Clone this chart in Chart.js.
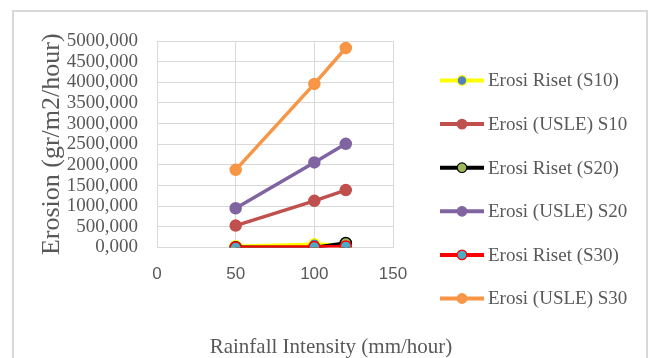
<!DOCTYPE html>
<html>
<head>
<meta charset="utf-8">
<script src="https://cdn.jsdelivr.net/npm/chart.js@4/dist/chart.umd.min.js"></script>
<style>
  html, body { margin: 0; padding: 0; background: #ffffff; overflow: hidden; }
  #frame { position: absolute; left: 12px; top: 10px; width: 636px; height: 400px; box-sizing: border-box; border: 2px solid #d9d9d9; border-bottom: none; }
  #c { position: absolute; left: 0; top: 0; }
</style>
</head>
<body>
<div id="frame"></div>
<canvas id="c" width="648" height="358"></canvas>
<script>
// ---- data ----
const intensities = [50, 100, 120];
const seriesNames = [
  'Erosi Riset (S10)',
  'Erosi (USLE) S10',
  'Erosi Riset (S20)',
  'Erosi (USLE) S20',
  'Erosi Riset (S30)',
  'Erosi (USLE) S30'
];
const risetS10 = [30, 80, 60];
const usleS10 = [530, 1130, 1390];
const risetS20 = [5, 0, 110];
const usleS20 = [950, 2060, 2510];
const risetS30 = [0, 10, 25];
const usleS30 = [1880, 3960, 4830];
const xTicks = [0, 50, 100, 150];
const yTicks = [0, 500, 1000, 1500, 2000, 2500, 3000, 3500, 4000, 4500, 5000];
const xAxisTitle = 'Rainfall Intensity (mm/hour)';
const yAxisTitle = 'Erosion (gr/m2/hour)';

// ---- styles ----
const lineColors = ['#ffff00', '#c0504d', '#000000', '#8064a2', '#ff0000', '#f79646'];
const fillColors = ['#4f81bd', '#c0504d', '#9bbb59', '#8064a2', '#4bacc6', '#f79646'];
const allValues = [risetS10, usleS10, risetS20, usleS20, risetS30, usleS30];

const datasets = allValues.map((vals, i) => ({
  label: seriesNames[i],
  data: intensities.map((x, k) => ({ x: x, y: vals[k] })),
  borderColor: lineColors[i],
  backgroundColor: fillColors[i],
  pointBackgroundColor: fillColors[i],
  pointBorderColor: lineColors[i],
  pointBorderWidth: 1.5,
  pointRadius: 5.5,
  borderWidth: 3.5,
  showLine: true,
  fill: false,
  tension: 0,
  order: allValues.length - i
}));

const textColor = '#595959';
const gridColor = '#d9d9d9';

const customLegend = {
  id: 'customLegend',
  afterDraw(chart) {
    const ctx = chart.ctx;
    ctx.save();
    chart.data.datasets.forEach((ds, i) => {
      const y = 80.5 + i * 43.6;
      ctx.strokeStyle = ds.borderColor;
      ctx.lineWidth = 4;
      ctx.beginPath();
      ctx.moveTo(440, y);
      ctx.lineTo(484, y);
      ctx.stroke();
      ctx.beginPath();
      ctx.arc(462, y, 4.8, 0, Math.PI * 2);
      ctx.fillStyle = ds.pointBackgroundColor;
      ctx.fill();
      ctx.lineWidth = 1.2;
      ctx.strokeStyle = ds.pointBorderColor;
      ctx.stroke();
      ctx.fillStyle = textColor;
      ctx.font = '19px "Liberation Serif"';
      ctx.textAlign = 'left';
      ctx.textBaseline = 'middle';
      ctx.fillText(ds.label, 488, y + 1);
    });
    ctx.font = '21px "Liberation Serif"';
    ctx.textAlign = 'center';
    ctx.textBaseline = 'middle';
    ctx.fillStyle = textColor;
    ctx.fillText(xAxisTitle, 331, 347);
    ctx.restore();
  }
};

new Chart(document.getElementById('c'), {
  type: 'scatter',
  data: { datasets: datasets },
  options: {
    responsive: false,
    animation: false,
    layout: { padding: { top: 41, right: 255, bottom: 0, left: 0 } },
    plugins: {
      legend: { display: false },
      tooltip: { enabled: false }
    },
    scales: {
      x: {
        type: 'linear',
        min: xTicks[0],
        max: xTicks[xTicks.length - 1],
        afterBuildTicks: (s) => { s.ticks = xTicks.map(v => ({ value: v })); },
        afterFit: (s) => { s.height = 110.5; },
        grid: { color: gridColor, drawTicks: false },
        border: { color: gridColor },
        ticks: {
          padding: 17,
          color: textColor,
          font: { family: 'Liberation Sans', size: 17 }
        }
      },
      y: {
        type: 'linear',
        min: yTicks[0],
        max: yTicks[yTicks.length - 1],
        afterBuildTicks: (s) => { s.ticks = yTicks.map(v => ({ value: v })); },
        afterFit: (s) => { s.width = 157; },
        grid: { color: gridColor, drawTicks: false },
        border: { color: gridColor },
        ticks: {
          autoSkip: false,
          padding: 19,
          color: textColor,
          font: { family: 'Liberation Serif', size: 19, lineHeight: 1 },
          callback: (v) => Number(v).toFixed(3).replace('.', ',')
        },
        title: {
          display: true,
          text: yAxisTitle,
          color: textColor,
          font: { family: 'Liberation Serif', size: 26 },
          padding: { top: 36.4, bottom: 0 }
        }
      }
    }
  },
  plugins: [customLegend]
});
</script>
</body>
</html>
